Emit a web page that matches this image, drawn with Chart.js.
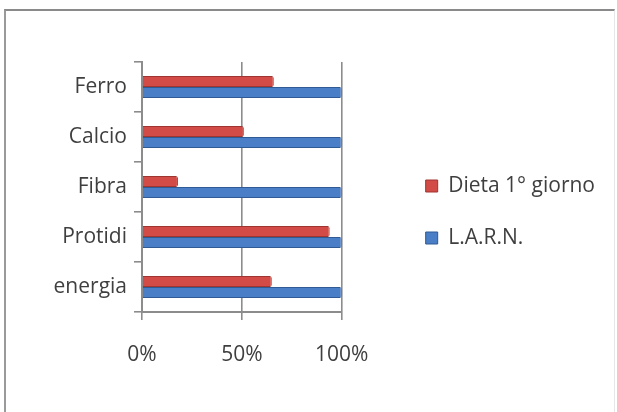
<!DOCTYPE html>
<html>
<head>
<meta charset="utf-8">
<script src="https://cdn.jsdelivr.net/npm/chart.js@4"></script>
<style>
  html, body { margin: 0; padding: 0; background: #ffffff; }
  #wrap { position: relative; width: 617px; height: 412px; overflow: hidden; }
  #frame { position: absolute; left: 4px; top: 9px; width: 608px; height: 420px;
           border-top: 2px solid #8a8a8a; border-left: 2px solid #9a9a9a; border-right: 1px solid #e6e6e6; pointer-events: none; }
  canvas { position: absolute; left: 0; top: 0; }
</style>
</head>
<body>
<div id="wrap">
  <canvas id="c" width="617" height="412"></canvas>
  <div id="frame"></div>
</div>
<script>
const categories = ['Ferro', 'Calcio', 'Fibra', 'Protidi', 'energia'];
const seriesNames = ['Dieta 1° giorno', 'L.A.R.N.'];
const dietaValues = [66, 51, 18, 94, 65];
const larnValues = [100, 100, 100, 100, 100];
const xTicks = [0, 50, 100];

const FONT = "'Open Sans', sans-serif";
const TEXT = '#3f3f3f';
const AXIS = '#8c8c8c';

new Chart(document.getElementById('c'), {
  type: 'bar',
  data: {
    labels: categories,
    datasets: [
      { label: seriesNames[0], data: dietaValues, backgroundColor: '#d34b46', borderColor: '#9e3531', borderWidth: 1, borderRadius: 2, borderSkipped: 'start' },
      { label: seriesNames[1], data: larnValues, backgroundColor: '#4a7ec6', borderColor: '#2f5a93', borderWidth: 1, borderRadius: 2, borderSkipped: 'start' }
    ]
  },
  options: {
    indexAxis: 'y',
    responsive: false,
    animation: false,
    devicePixelRatio: 1,
    categoryPercentage: 0.44,
    barPercentage: 1,
    layout: { padding: { top: 62, bottom: 50, left: 0, right: 12 } },
    plugins: {
      tooltip: { enabled: false },
      legend: {
        position: 'right',
        align: 'center',
        maxWidth: 300,
        labels: {
          boxWidth: 12, boxHeight: 12, padding: 31,
          color: TEXT,
          font: { family: FONT, size: 21 }
        }
      }
    },
    scales: {
      x: {
        min: 0, max: 100,
        afterBuildTicks: s => { s.ticks = xTicks.map(v => ({ value: v })); },
        afterFit: s => { s.height = 50; },
        ticks: { callback: v => v + '%', color: TEXT, font: { family: FONT, size: 21 }, padding: 22 },
        grid: { color: AXIS, lineWidth: 1.6, tickLength: 8, drawOnChartArea: true },
        border: { color: AXIS, width: 2 }
      },
      y: {
        ticks: { color: TEXT, font: { family: FONT, size: 21 }, padding: 7 },
        grid: { color: AXIS, lineWidth: 1.6, tickLength: 8, drawOnChartArea: false, offset: true },
        border: { color: AXIS, width: 2 },
        afterFit: s => { s.width = 142; }
      },
      gap: {
        type: 'category',
        position: 'right',
        grid: { display: false },
        ticks: { display: false },
        border: { display: false },
        afterFit: s => { s.width = 53; }
      }
    }
  }
});
</script>
</body>
</html>
